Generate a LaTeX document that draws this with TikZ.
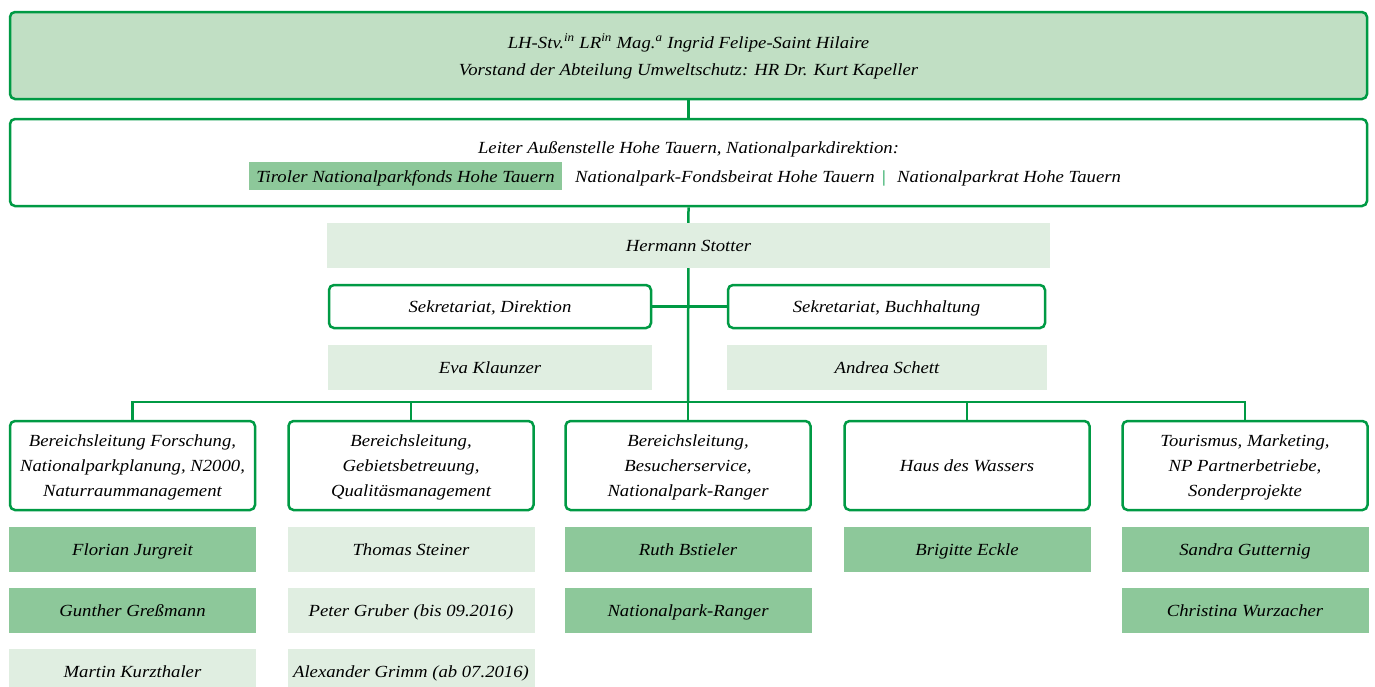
\documentclass[tikz,border=0pt]{standalone}
\usepackage{fontspec}
\setmainfont{Liberation Serif}[FakeStretch=1.1]
\usetikzlibrary{backgrounds}
\definecolor{npg}{HTML}{009A44}
\definecolor{topfill}{HTML}{C1DFC4}
\definecolor{darkfill}{HTML}{8DC89A}
\definecolor{lightfill}{HTML}{E0EEE1}
\begin{document}
\begin{tikzpicture}[x=1pt,y=-1pt,
  base/.style={inner sep=0pt, align=center, text height=14pt, text depth=2pt,
    font=\fontsize{17}{25}\selectfont\itshape},
  frame/.style={base, draw=npg, line width=2.5pt, rounded corners=5pt, fill=white},
  topbox/.style={frame, fill=topfill, text height=41pt, font=\fontsize{17}{27}\selectfont\itshape},
  unit/.style={frame, minimum width=245pt, minimum height=89pt, text height=64pt},
  sek/.style={frame, minimum height=43pt},
  namebox/.style={base, minimum width=247pt, minimum height=45pt},
  darkname/.style={namebox, fill=darkfill},
  lightname/.style={namebox, fill=lightfill},
  plain/.style={base},
  conn/.style={draw=npg, line width=2.5pt}
]
\clip (0,0) rectangle (1375,686);

% top
\node[topbox, minimum width=1357pt, minimum height=87pt] (top) at (688.5,55.5)
  {LH-Stv.\textsuperscript{in} LR\textsuperscript{in} Mag.\textsuperscript{a} Ingrid Felipe-Saint Hilaire\\
   Vorstand der Abteilung Umweltschutz: HR Dr. Kurt Kapeller};

% second
\node[frame, minimum width=1357pt, minimum height=87pt] (second) at (688.5,162.5) {};
\node[plain] (lead) at (688.5,147.5) {Leiter Außenstelle Hohe Tauern, Nationalparkdirektion:};
\node[base, fill=darkfill, minimum width=313pt, minimum height=28pt] (fonds) at (405.5,176)
  {Tiroler Nationalparkfonds Hohe Tauern};
\node[plain, anchor=west] (beirat) at (575,176) {Nationalpark-Fondsbeirat Hohe Tauern};
\node[plain, font=\fontsize{17}{25}\selectfont, text=npg] (bar) at (884,176) {|};
\node[plain, anchor=west] (rat) at (897,176) {Nationalparkrat Hohe Tauern};

% director
\node[base, fill=lightfill, minimum width=723pt, minimum height=45pt] (stotter) at (688.5,245.5) {Hermann Stotter};

% secretariats
\node[sek, minimum width=322pt] (sekD) at (490,306.5) {Sekretariat, Direktion};
\node[sek, minimum width=317pt] (sekB) at (886.5,306.5) {Sekretariat, Buchhaltung};
\node[base, fill=lightfill, minimum width=324pt, minimum height=45pt] (eva) at (490,367.5) {Eva Klaunzer};
\node[base, fill=lightfill, minimum width=320pt, minimum height=45pt] (andrea) at (887,367.5) {Andrea Schett};

% units
\node[unit] (b1) at (132.5,465.5) {Bereichsleitung Forschung,\\Nationalparkplanung, N2000,\\Naturraummanagement};
\node[unit] (b2) at (411,465.5) {Bereichsleitung,\\Gebietsbetreuung,\\Qualitäsmanagement};
\node[unit] (b3) at (688,465.5) {Bereichsleitung,\\Besucherservice,\\Nationalpark-Ranger};
\node[unit, text height=14pt] (b4) at (967,465.5) {Haus des Wassers};
\node[unit] (b5) at (1245,465.5) {Tourismus, Marketing,\\NP Partnerbetriebe,\\Sonderprojekte};

% names
\node[darkname] (n11) at (132.5,549.5) {Florian Jurgreit};
\node[darkname] (n12) at (132.5,610.5) {Gunther Greßmann};
\node[lightname] (n13) at (132.5,671.5) {Martin Kurzthaler};
\node[lightname] (n21) at (411,549.5) {Thomas Steiner};
\node[lightname] (n22) at (411,610.5) {Peter Gruber (bis 09.2016)};
\node[lightname] (n23) at (411,671.5) {Alexander Grimm (ab 07.2016)};
\node[darkname] (n31) at (688,549.5) {Ruth Bstieler};
\node[darkname] (n32) at (688,610.5) {Nationalpark-Ranger};
\node[darkname] (n41) at (967,549.5) {Brigitte Eckle};
\node[darkname] (n51) at (1245,549.5) {Sandra Gutternig};
\node[darkname] (n52) at (1245,610.5) {Christina Wurzacher};

\coordinate (bus) at (688,402);

\begin{scope}[on background layer]
  \draw[conn] (top.south) -- (second.north);
  \draw[conn] (second.south) -- (bus);
  \draw[conn] (sekD.east) -- (sekB.west);
  \draw[conn] (b1.north) |- (bus);
  \draw[conn] (b2.north) |- (bus);
  \draw[conn] (b3.north) -- (bus);
  \draw[conn] (b4.north) |- (bus);
  \draw[conn] (b5.north) |- (bus);
\end{scope}
\end{tikzpicture}
\end{document}
